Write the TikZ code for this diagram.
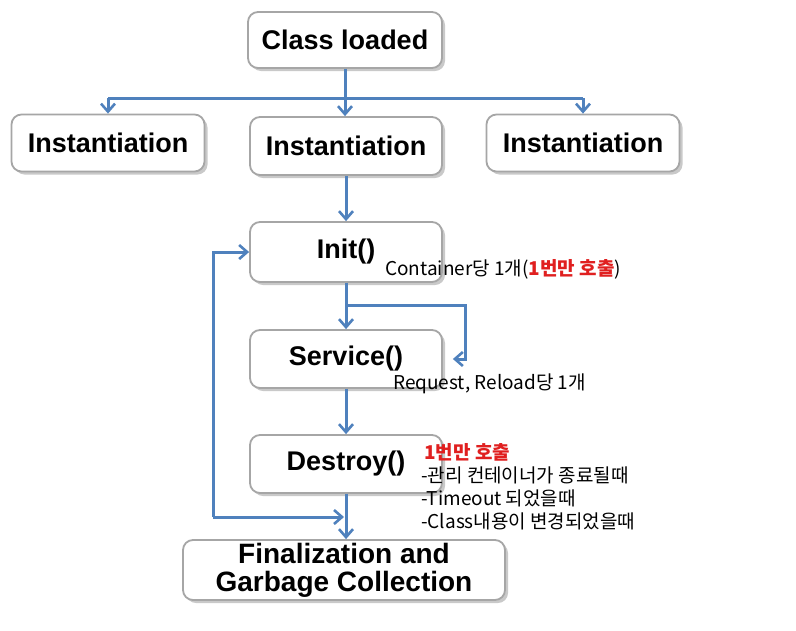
\documentclass[tikz,border=0pt]{standalone}
\usepackage{fontspec}
\setmainfont{Liberation Sans}
\newfontfamily\kor{Noto Sans CJK KR}
\usetikzlibrary{arrows.meta,shadows,calc}
\definecolor{arrowblue}{HTML}{4F81BD}
\definecolor{boxline}{HTML}{A6A6A6}
\definecolor{notered}{HTML}{E02020}
\tikzset{
  box/.style={draw=boxline, line width=1.8pt, rounded corners=10pt, fill=white,
    drop shadow={shadow xshift=3pt, shadow yshift=-3pt, fill=black!35, opacity=0.6},
    font=\fontsize{27}{30}\selectfont\bfseries, align=center, inner sep=0pt},
  conn/.style={draw=arrowblue, line width=3pt, -{Straight Barb[length=8pt,width=14pt,line width=2.6pt]}},
  plain/.style={draw=arrowblue, line width=3pt},
  note/.style={font=\kor\fontsize{19}{23}\selectfont, anchor=west, inner sep=0pt, align=left},
  rednote/.style={note, text=notered, font=\kor\fontsize{19}{23}\selectfont\bfseries},
}
\begin{document}
\begin{tikzpicture}[x=1pt,y=-1pt]
\useasboundingbox[fill=white] (0,0) rectangle (796,630);
% boxes
\node[box, minimum width=194pt, minimum height=56pt] (cl) at (345,40) {Class loaded};
\node[box, minimum width=193pt, minimum height=57pt] (i1) at (108,143) {Instantiation};
\node[box, minimum width=192pt, minimum height=58pt] (i2) at (346,146) {Instantiation};
\node[box, minimum width=193pt, minimum height=57pt] (i3) at (583,143) {Instantiation};
\node[box, minimum width=192pt, minimum height=60pt] (init) at (346,252) {Init()};
\node[box, minimum width=192pt, minimum height=58pt] (svc) at (346,359) {Service()};
\node[box, minimum width=192pt, minimum height=58pt] (des) at (346,464) {Destroy()};
\node[box, minimum width=322pt, minimum height=60pt, font=\fontsize{28}{28}\selectfont\bfseries] (fin) at (344,570) {Finalization and\\Garbage Collection};
% coordinates
\coordinate (split) at (345,98);
\coordinate (branch) at (346,305);
\coordinate (bend) at (465,305);
\coordinate (loop) at (213,517);
% connectors
\draw[conn] (cl.south) -- (cl.south |- i2.north);
\draw[plain] (i1.north |- split) -- (i3.north |- split);
\draw[conn] (i1.north |- split) -- (i1.north);
\draw[conn] (i3.north |- split) -- (i3.north);
\draw[conn] (i2.south) -- (init.north);
\draw[conn] (init.south) -- (svc.north);
\draw[conn] (branch) -- (bend) |- ([xshift=10pt]svc.east);
\draw[conn] (svc.south) -- (des.north);
\draw[conn] (des.south) -- (des.south |- fin.north);
\draw[conn] (loop) |- (init.west);
\draw[conn, shorten >=2pt] (loop) -- (loop -| des.south);
% notes
\node[note] (n1) at (385,269) {Container당 1개(\textcolor{notered}{\bfseries 1번만 호출})};
\node[note] (n2) at (393,384) {Request, Reload당 1개};
\node[rednote] (n3) at (424,452) {1번만 호출};
\node[note] (n4) at (421,475) {-관리 컨테이너가 종료될때};
\node[note] (n5) at (421,498) {-Timeout 되었을때};
\node[note] (n6) at (421,521) {-Class내용이 변경되었을때};
\end{tikzpicture}
\end{document}
